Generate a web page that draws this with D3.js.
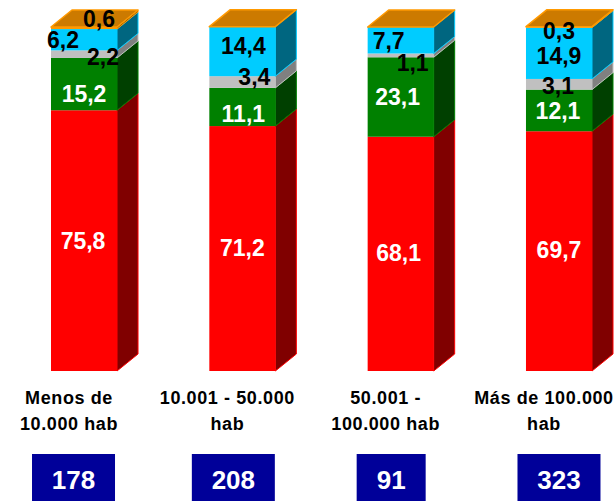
<!DOCTYPE html>
<html>
<head>
<meta charset="utf-8">
<script src="https://cdn.jsdelivr.net/npm/d3@7"></script>
<style>
  body { margin: 0; background: #fff; }
  text { font-family: "Liberation Sans", Arial, sans-serif; font-weight: bold; }
</style>
</head>
<body>
<div id="chart"></div>
<script>
// data (% of each group)
var categories = ["Menos de 10.000 hab", "10.001 - 50.000 hab", "50.001 - 100.000 hab", "Más de 100.000 hab"];
var categoryLines = [["Menos de", "10.000 hab"], ["10.001 - 50.000", "hab"], ["50.001 -", "100.000 hab"], ["Más de 100.000", "hab"]];
var rojo    = [75.8, 71.2, 68.1, 69.7];
var verde   = [15.2, 11.1, 23.1, 12.1];
var gris    = [2.2, 3.4, 1.1, 3.1];
var celeste = [6.2, 14.4, 7.7, 14.9];
var naranja = [0.6, 0, 0, 0.3];
var totals  = [178, 208, 91, 323];

var keys = ["rojo", "verde", "gris", "celeste", "naranja"];
var table = categories.map(function(c, i) {
	return {cat: c, rojo: rojo[i], verde: verde[i], gris: gris[i], celeste: celeste[i], naranja: naranja[i]};
});

// styles
var front = {rojo: "#ff0000", verde: "#008000", gris: "#c0c0c0", celeste: "#00ccff", naranja: "#ff9900"};
var side  = {rojo: "#800000", verde: "#004000", gris: "#808080", celeste: "#006680", naranja: "#804c00"};
var labelColor = {rojo: "#fff", verde: "#fff", gris: "#000", celeste: "#000", naranja: "#000"};
var topFill = "#cc7a00";

// hand placed label nudges (px) per bar, per series, like in the original
var nudge = [
	{rojo: [-1, 0], verde: [0, 10], gris: [19, 3], celeste: [-21, 0], naranja: [15, -9]},
	{rojo: [0, -1], verde: [1, 7], gris: [12, -5], celeste: [1, -6], naranja: [0, 0]},
	{rojo: [-2, -1], verde: [-3, 0], gris: [12, 7], celeste: [-12, 0], naranja: [0, 0]},
	{rojo: [0, -1], verde: [-1, 0], gris: [-1, 1], celeste: [0, 2], naranja: [0, 4]}
];
var boxShift = [-10.5, -9, -9.5, 0];
var boxWidth = [83, 83, 69, 83];

var width = 616, height = 501;
var depthX = 21, depthY = 17;

var svg = d3.select("#chart")
	.append("svg")
		.attr("width", width)
		.attr("height", height);

var x = d3.scaleBand()
	.domain(categories)
	.range([51, 592])
	.paddingInner(0.583)
	.paddingOuter(0);

var y = d3.scaleLinear()
	.domain([0, 100])
	.range([371, 27]);

var stacked = d3.stack().keys(keys)(table);

var fmt = d3.formatLocale({decimal: ",", thousands: ".", grouping: [3], currency: ["", "€"]}).format(".1f");

var bars = svg.append("g");

stacked.forEach(function(layer) {
	var k = layer.key;
	layer.forEach(function(d, i) {
		var x0 = x(categories[i]), x1 = x0 + x.bandwidth();
		var yb = y(d[0]), yt = y(d[1]);
		if (d[1] - d[0] <= 0) return;
		// side face
		bars.append("path")
			.attr("d", "M" + x1 + "," + yb + "L" + (x1 + depthX) + "," + (yb - depthY) +
				"L" + (x1 + depthX) + "," + (yt - depthY) + "L" + x1 + "," + yt + "Z")
			.attr("fill", side[k])
			.attr("stroke", front[k])
			.attr("stroke-width", 1);
		// front face
		bars.append("rect")
			.attr("x", x0)
			.attr("y", yt)
			.attr("width", x.bandwidth())
			.attr("height", yb - yt)
			.attr("fill", front[k]);
	});
});

// top faces
categories.forEach(function(c, i) {
	var x0 = x(c), x1 = x0 + x.bandwidth();
	var total = d3.sum(keys, function(k) { return table[i][k]; });
	var yt = y(total);
	bars.append("path")
		.attr("d", "M" + x0 + "," + yt + "L" + x1 + "," + yt + "L" + (x1 + depthX) + "," + (yt - depthY) +
			"L" + (x0 + depthX) + "," + (yt - depthY) + "Z")
		.attr("fill", topFill)
		.attr("stroke", "#ff9900")
		.attr("stroke-width", 1.5)
		.attr("stroke-linejoin", "round");
});

// value labels
var labels = svg.append("g");
stacked.forEach(function(layer) {
	var k = layer.key;
	layer.forEach(function(d, i) {
		var v = d[1] - d[0];
		if (v <= 0) return;
		var cx = x(categories[i]) + x.bandwidth() / 2 + nudge[i][k][0];
		var cy = (y(d[0]) + y(d[1])) / 2 + nudge[i][k][1];
		labels.append("text")
			.attr("x", cx)
			.attr("y", cy)
			.attr("dy", "0.36em")
			.attr("text-anchor", "middle")
			.attr("font-size", 23)
			.attr("fill", labelColor[k])
			.text(fmt(v));
	});
});

// category labels
var cats = svg.append("g");
categories.forEach(function(c, i) {
	var cx = x(c) + x.bandwidth() / 2 - 15;
	categoryLines[i].forEach(function(line, j) {
		cats.append("text")
			.attr("x", cx)
			.attr("y", 404 + j * 26)
			.attr("text-anchor", "middle")
			.attr("font-size", 18)
			.attr("letter-spacing", "0.6px")
			.attr("fill", "#000")
			.text(line);
	});
});

// totals in blue boxes
var boxes = svg.append("g");
categories.forEach(function(c, i) {
	var cx = x(c) + x.bandwidth() / 2 + boxShift[i];
	boxes.append("rect")
		.attr("x", cx - boxWidth[i] / 2)
		.attr("y", 454)
		.attr("width", boxWidth[i])
		.attr("height", 60)
		.attr("fill", "#000099");
	boxes.append("text")
		.attr("x", cx)
		.attr("y", 489)
		.attr("text-anchor", "middle")
		.attr("font-size", 26)
		.attr("fill", "#fff")
		.text(totals[i]);
});
</script>
</body>
</html>
